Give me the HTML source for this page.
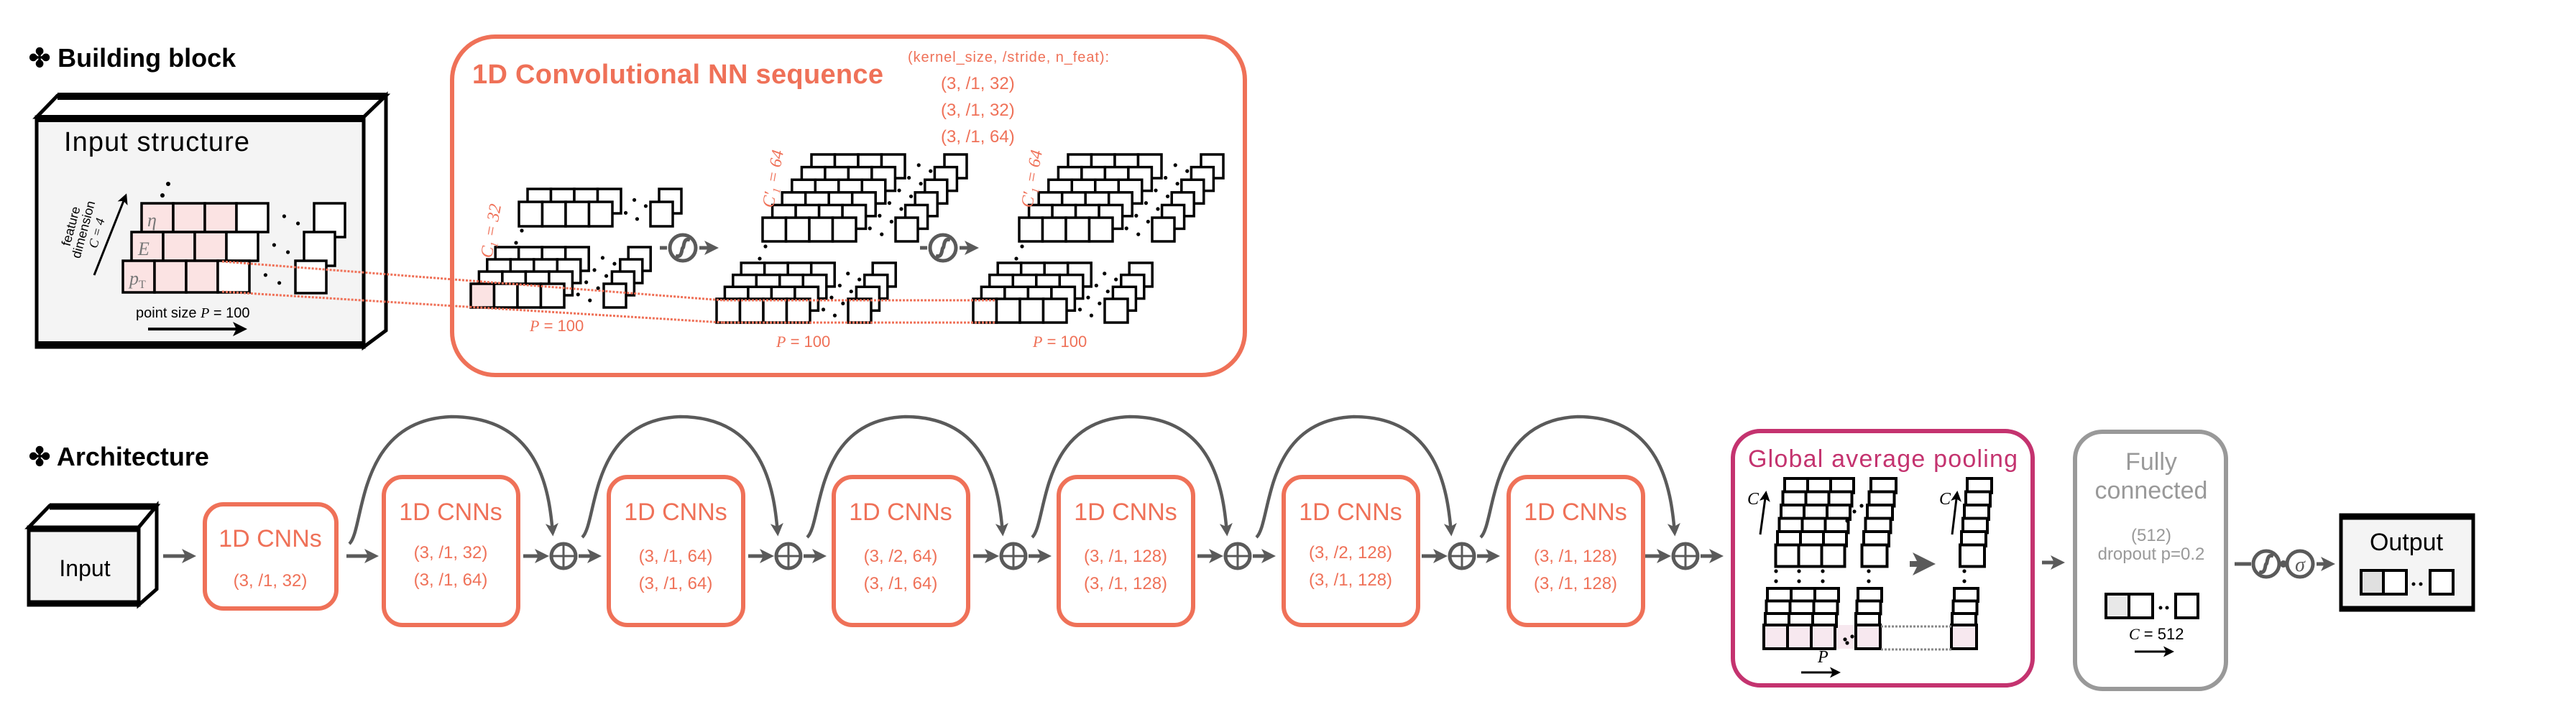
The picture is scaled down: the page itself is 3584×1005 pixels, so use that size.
<!DOCTYPE html>
<html><head><meta charset="utf-8"><style>
html,body{margin:0;padding:0;background:#fff;}
svg{display:block;}
text{font-family:"Liberation Sans",sans-serif;}
.serif{font-family:"Liberation Serif",serif;font-style:italic;}
</style></head><body>
<svg id="s" xmlns="http://www.w3.org/2000/svg" width="3584" height="1005" viewBox="0 0 3584 1005">
<defs>
<marker id="ah" markerWidth="4" markerHeight="4" refX="3" refY="2" orient="auto" markerUnits="strokeWidth"><path d="M0,0 L4,2 L0,4 L1,2 z" fill="#5a5a5a"/></marker>
<marker id="ak" markerWidth="5" markerHeight="5" refX="4" refY="2.5" orient="auto" markerUnits="strokeWidth"><path d="M0,0 L5,2.5 L0,5 L1.2,2.5 z" fill="#000"/></marker>
</defs>
<rect width="3584" height="1005" fill="#fff"/>

<!-- Titles -->
<text x="40" y="93" font-size="36" font-weight="bold">✤ Building block</text>
<text x="40" y="648" font-size="36" font-weight="bold">✤ Architecture</text>

<!-- Input structure cube -->
<polygon points="51,163 80,133 537,133 506,163" fill="#fff" stroke="#000" stroke-width="5"/>
<line x1="80" y1="134" x2="537" y2="134" stroke="#000" stroke-width="10"/>
<polygon points="506,163 537,133 537,460 506,483" fill="#fff" stroke="#000" stroke-width="5"/>
<rect x="51" y="163" width="455" height="320" fill="#f4f4f4" stroke="#000" stroke-width="5"/>
<line x1="51" y1="165" x2="506" y2="165" stroke="#000" stroke-width="10"/>
<line x1="49" y1="480" x2="508" y2="480" stroke="#000" stroke-width="10"/>
<text x="89" y="210" font-size="38" textLength="258">Input structure</text>

<!-- Orange building box -->
<rect x="629" y="51" width="1103" height="471" rx="60" fill="#fff" stroke="#ef7158" stroke-width="6"/>
<text x="657" y="116" font-size="38" font-weight="bold" fill="#ef7158" textLength="572">1D Convolutional NN sequence</text>
<text x="1263" y="86" font-size="20" fill="#ef7158" textLength="280">(kernel_size, /stride, n_feat):</text>
<text x="1309" y="124" font-size="24" fill="#ef7158">(3, /1, 32)</text>
<text x="1309" y="161" font-size="24" fill="#ef7158">(3, /1, 32)</text>
<text x="1309" y="198" font-size="24" fill="#ef7158">(3, /1, 64)</text>

<g id="g"></g>

<!-- input labels -->
<text x="205" y="315" class="serif" font-size="26" fill="#777">η</text>
<text x="192" y="355" class="serif" font-size="26" fill="#777">E</text>
<text x="180" y="396" class="serif" font-size="26" fill="#777">p<tspan font-size="16" dy="5" font-style="normal">T</tspan></text>
<line x1="131" y1="383" x2="175" y2="272" stroke="#000" stroke-width="3" marker-end="url(#ak)"/>
<g transform="translate(118,320) rotate(-75)" font-size="18" text-anchor="middle">
<text x="0" y="-14">feature</text><text x="0" y="4">dimension</text><text x="0" y="23" class="serif">C = 4</text></g>
<circle cx="234" cy="256" r="3" fill="#000"/><circle cx="226" cy="272" r="3" fill="#000"/>
<text x="189" y="442" font-size="20">point size <tspan class="serif">P</tspan> = 100</text>
<line x1="206" y1="458" x2="340" y2="458" stroke="#000" stroke-width="4" marker-end="url(#ak)"/>

<!-- C labels & P labels -->
<text transform="translate(684,360) rotate(-80)" class="serif" font-size="24" fill="#ef7158">C<tspan font-size="15" dy="5">1</tspan><tspan dy="-5"> = 32</tspan></text>
<text transform="translate(1076,290) rotate(-80)" class="serif" font-size="24" fill="#ef7158">C′<tspan font-size="15" dy="5">1</tspan><tspan dy="-5"> = 64</tspan></text>
<text transform="translate(1436,290) rotate(-80)" class="serif" font-size="24" fill="#ef7158">C′<tspan font-size="15" dy="5">1</tspan><tspan dy="-5"> = 64</tspan></text>
<text x="737" y="461" font-size="22" fill="#ef7158"><tspan class="serif">P</tspan> = 100</text>
<text x="1080" y="483" font-size="22" fill="#ef7158"><tspan class="serif">P</tspan> = 100</text>
<text x="1437" y="483" font-size="22" fill="#ef7158"><tspan class="serif">P</tspan> = 100</text>

<!-- red dotted lines -->
<g stroke="#ef7158" stroke-width="3" stroke-dasharray="3,2" fill="none">
<line x1="309" y1="364" x2="1006" y2="418"/>
<line x1="309" y1="406" x2="1006" y2="449"/>
<line x1="1006" y1="418" x2="1385" y2="418"/>
<line x1="1006" y1="449" x2="1385" y2="449"/>
</g>

<!-- sigmoid in building block -->
<g stroke="#5a5a5a" stroke-width="5" fill="none">
<line x1="918" y1="345" x2="928" y2="345"/>
<circle cx="950" cy="345" r="18" fill="#fff"/>
<path d="M960,334 C950,330 952,345 950,345 C948,345 950,360 940,356"/>
<line x1="973" y1="345" x2="995" y2="345" marker-end="url(#ah)"/>
<line x1="1280" y1="345" x2="1290" y2="345"/>
<circle cx="1312" cy="345" r="18" fill="#fff"/>
<path d="M1322,334 C1312,330 1314,345 1312,345 C1310,345 1312,360 1302,356"/>
<line x1="1335" y1="345" x2="1357" y2="345" marker-end="url(#ah)"/>
</g>

<!-- Architecture -->
<polygon points="40,734 69,704 218,704 193,734" fill="#fff" stroke="#000" stroke-width="5"/>
<line x1="69" y1="705" x2="218" y2="705" stroke="#000" stroke-width="9"/>
<polygon points="193,734 218,704 218,820 193,842" fill="#fff" stroke="#000" stroke-width="5"/>
<rect x="40" y="734" width="153" height="108" fill="#f4f4f4" stroke="#000" stroke-width="5"/>
<line x1="40" y1="736" x2="193" y2="736" stroke="#000" stroke-width="9"/>
<line x1="38" y1="840" x2="195" y2="840" stroke="#000" stroke-width="9"/>
<text x="118" y="802" font-size="32" text-anchor="middle">Input</text>

<g fill="#fff" stroke="#ef7158" stroke-width="6">
<rect x="285" y="702" width="183" height="145" rx="26"/>
<rect x="534" y="664" width="187" height="206" rx="26"/>
<rect x="847" y="664" width="187" height="206" rx="26"/>
<rect x="1160" y="664" width="187" height="206" rx="26"/>
<rect x="1473" y="664" width="187" height="206" rx="26"/>
<rect x="1786" y="664" width="187" height="206" rx="26"/>
<rect x="2099" y="664" width="187" height="206" rx="26"/>
</g>
<g fill="#ef7158" text-anchor="middle">
<text x="376" y="761" font-size="34">1D CNNs</text>
<text x="376" y="816" font-size="24">(3, /1, 32)</text>
<text x="627" y="724" font-size="34">1D CNNs</text><text x="627" y="777" font-size="24">(3, /1, 32)</text><text x="627" y="815" font-size="24">(3, /1, 64)</text>
<text x="940" y="724" font-size="34">1D CNNs</text><text x="940" y="782" font-size="24">(3, /1, 64)</text><text x="940" y="820" font-size="24">(3, /1, 64)</text>
<text x="1253" y="724" font-size="34">1D CNNs</text><text x="1253" y="782" font-size="24">(3, /2, 64)</text><text x="1253" y="820" font-size="24">(3, /1, 64)</text>
<text x="1566" y="724" font-size="34">1D CNNs</text><text x="1566" y="782" font-size="24">(3, /1, 128)</text><text x="1566" y="820" font-size="24">(3, /1, 128)</text>
<text x="1879" y="724" font-size="34">1D CNNs</text><text x="1879" y="777" font-size="24">(3, /2, 128)</text><text x="1879" y="815" font-size="24">(3, /1, 128)</text>
<text x="2192" y="724" font-size="34">1D CNNs</text><text x="2192" y="782" font-size="24">(3, /1, 128)</text><text x="2192" y="820" font-size="24">(3, /1, 128)</text>
</g>

<g id="arch" stroke="#5a5a5a" stroke-width="5" fill="none"></g>

<!-- GAP -->
<rect x="2411" y="600" width="417" height="354" rx="38" fill="none" stroke="#c4336f" stroke-width="6"/>
<text x="2432" y="650" font-size="34" fill="#c4336f" textLength="375">Global average pooling</text>
<g id="gap"></g>
<line x1="2449" y1="744" x2="2457" y2="686" stroke="#000" stroke-width="3" marker-end="url(#ak)"/>
<text x="2431" y="702" class="serif" font-size="24">C</text>
<line x1="2716" y1="744" x2="2723" y2="686" stroke="#000" stroke-width="3" marker-end="url(#ak)"/>
<text x="2698" y="702" class="serif" font-size="24">C</text>
<line x1="2506" y1="936" x2="2558" y2="936" stroke="#000" stroke-width="3" marker-end="url(#ak)"/>
<text x="2529" y="922" class="serif" font-size="24">P</text>
<line x1="2657" y1="785" x2="2685" y2="785" stroke="#5a5a5a" stroke-width="8" marker-end="url(#ah)"/>

<!-- FC -->
<line x1="2841" y1="783" x2="2868" y2="783" stroke="#5a5a5a" stroke-width="5" marker-end="url(#ah)"/>
<rect x="2887" y="601" width="210" height="358" rx="38" fill="none" stroke="#999" stroke-width="6"/>
<g fill="#999" text-anchor="middle">
<text x="2993" y="654" font-size="34">Fully</text>
<text x="2993" y="694" font-size="34">connected</text>
<text x="2993" y="753" font-size="24">(512)</text>
<text x="2993" y="779" font-size="24">dropout p=0.2</text>
</g>
<rect x="2930" y="827" width="32" height="33" fill="#e8e8e8" stroke="#000" stroke-width="4"/>
<rect x="2962" y="827" width="33" height="33" fill="#fff" stroke="#000" stroke-width="4"/>
<circle cx="3006" cy="846" r="2.5"/><circle cx="3015" cy="846" r="2.5"/>
<rect x="3027" y="827" width="31" height="33" fill="#fff" stroke="#000" stroke-width="4"/>
<text x="2962" y="890" font-size="22"><tspan class="serif">C</tspan> = 512</text>
<line x1="2970" y1="907" x2="3022" y2="907" stroke="#000" stroke-width="3" marker-end="url(#ak)"/>

<!-- final activations -->
<g stroke="#5a5a5a" stroke-width="5" fill="none">
<line x1="3109" y1="785" x2="3132" y2="785"/>
<circle cx="3153" cy="785" r="18" fill="#fff"/>
<path d="M3163,774 C3153,770 3155,785 3153,785 C3151,785 3153,800 3143,796"/>
<circle cx="3177" cy="785" r="2.5" fill="#5a5a5a"/>
<circle cx="3200" cy="785" r="18" fill="#fff"/>
<line x1="3223" y1="785" x2="3244" y2="785" marker-end="url(#ah)"/>
</g>
<text x="3200" y="795" font-size="28" text-anchor="middle" fill="#5a5a5a" class="serif">σ</text>

<!-- Output -->
<rect x="3257" y="717" width="184" height="132" fill="#f4f4f4" stroke="#000" stroke-width="5"/>
<line x1="3255" y1="719" x2="3443" y2="719" stroke="#000" stroke-width="9"/>
<line x1="3255" y1="847" x2="3443" y2="847" stroke="#000" stroke-width="7"/>
<text x="3348" y="766" font-size="34" text-anchor="middle">Output</text>
<rect x="3285" y="794" width="31" height="33" fill="#e0e0e0" stroke="#000" stroke-width="4"/>
<rect x="3316" y="794" width="32" height="33" fill="#fff" stroke="#000" stroke-width="4"/>
<circle cx="3358" cy="813" r="2.5"/><circle cx="3368" cy="813" r="2.5"/>
<rect x="3381" y="794" width="32" height="33" fill="#fff" stroke="#000" stroke-width="4"/>
</svg>
<script>
var NS='http://www.w3.org/2000/svg';
function el(p,t,a){var e=document.createElementNS(NS,t);for(var k in a)e.setAttribute(k,a[k]);p.appendChild(e);return e;}
var G=document.getElementById('g');
function rect(p,x,y,w,h,f,sw){el(p,'rect',{x:x,y:y,width:w,height:h,fill:f||'#fff',stroke:'#000','stroke-width':sw||3.5});}
function dot(p,x,y){el(p,'circle',{cx:x,cy:y,r:2.6,fill:'#000'});}
function row(p,x,y,n,cw,h,pink,exOff,exW,exH,pc){
  for(var i=0;i<n;i++)rect(p,x+i*cw,y,cw,h,i<pink?(pc||'#fbe3e3'):'#fff');
  var e=x+n*cw;var g=exOff-n*cw;
  dot(p,e+g*0.35,y+h*0.45);dot(p,e+g*0.65,y+h*0.7);
  rect(p,x+exOff,y,exW,exH||h);
}
function stack(x,y,rows,dx,dy,cw,h,exOff,exW,pinkFront){
  for(var r=rows-1;r>=0;r--)row(G,x+r*dx,y+r*dy,4,cw,h,(r==0&&pinkFront)?1:0,exOff,exW,h);
}
// input structure rows
row(G,197,283,4,44,40,3,240,43,47);
row(G,183,323,4,44,40,3,240,43,47);
row(G,171,363,4,44,44,3,240,43,45);
// stack 1
stack(722,281,2,12,-18,32.5,34,183,31,false);
dot(G,726,321);dot(G,718,338);
stack(655,395,4,11.4,-17,32.5,33,185,31,true);
// stacks 2 & 3
[0,357].forEach(function(o){
  stack(1061+o,303,6,13.6,-17.6,32.5,33,185,31,false);
  dot(G,1065+o,343);dot(G,1057+o,360);
  stack(997+o,416,4,11.4,-16.7,32.5,33,183,32,false);
});
// architecture arrows
var A=document.getElementById('arch');
function arr(x1,x2,y){el(A,'line',{x1:x1,y1:y,x2:x2,y2:y,'marker-end':'url(#ah)'});}
var Y=774;
arr(227,268,Y);arr(482,522,Y);
var pl=[784,1097,1410,1722,2034,2345];
for(var i=0;i<pl.length;i++){
  var px=pl[i];
  arr(px-56,px-25,Y);arr(px+21,px+48,Y);
  el(A,'circle',{cx:px,cy:Y,r:17,fill:'#fff'});
  el(A,'line',{x1:px-17,y1:Y,x2:px+17,y2:Y,'stroke-width':3});
  el(A,'line',{x1:px,y1:Y-17,x2:px,y2:Y+17,'stroke-width':3});
  var sx=(i==0)?486:(pl[i-1]+26);
  var sy=(i==0)?757:748;
  var tx=px-15, pk=(sx+tx)/2;
  el(A,'path',{d:'M'+sx+','+sy+' C'+(sx+22)+','+(sy-20)+' '+(sx+8)+','+585+' '+pk+','+580+' C'+(tx-20)+','+580+' '+(tx-5)+','+680+' '+tx+','+742,'stroke-width':4.5,'marker-end':'url(#ah)'});
}
// GAP grids
var P=document.getElementById('gap');
for(var r=0;r<6;r++){
  var y=666+r*18.5,h=(r==5)?30:20;
  for(var c=0;c<3;c++)rect(P,2483-r*2.5+c*32,y,32,h,'#fff',4);
  rect(P,2603-r*2.5,y,35,h,'#fff',4);
  rect(P,2737-r*2,y,34,h,'#fff',4);
}
dot(P,2580,712);dot(P,2590,704);dot(P,2570,725);
[2471,2503,2536,2600,2733].forEach(function(x){dot(P,x,795);dot(P,x,809);});
el(P,'rect',{x:2454,y:870,width:165,height:33,fill:'#f7e8ef'});
for(var r=0;r<4;r++){
  var y=819+r*17.5,h=(r==3)?33:18,f=(r==3)?'#f7e8ef':'#fff';
  if(r==3){y=870;}
  for(var c=0;c<3;c++)if(!(r==3))rect(P,2459-r*1.5+c*33,y,33,h,f,4);
  if(r!=3){rect(P,2585-r*1.5,y,33,h,f,4);rect(P,2719-r*1.5,y,33,h,f,4);}
}
for(var c=0;c<3;c++)rect(P,2454+c*33,870,33,33,'#f7e8ef',4);
rect(P,2582,870,34,33,'#f7e8ef',4);rect(P,2715,870,35,33,'#f7e8ef',4);
dot(P,2567,890);dot(P,2577,886);dot(P,2570,895);
el(P,'line',{x1:2617,y1:872,x2:2715,y2:872,stroke:'#888','stroke-width':3,'stroke-dasharray':'3,2'});
el(P,'line',{x1:2617,y1:904,x2:2715,y2:904,stroke:'#888','stroke-width':3,'stroke-dasharray':'3,2'});
</script>
</body></html>
